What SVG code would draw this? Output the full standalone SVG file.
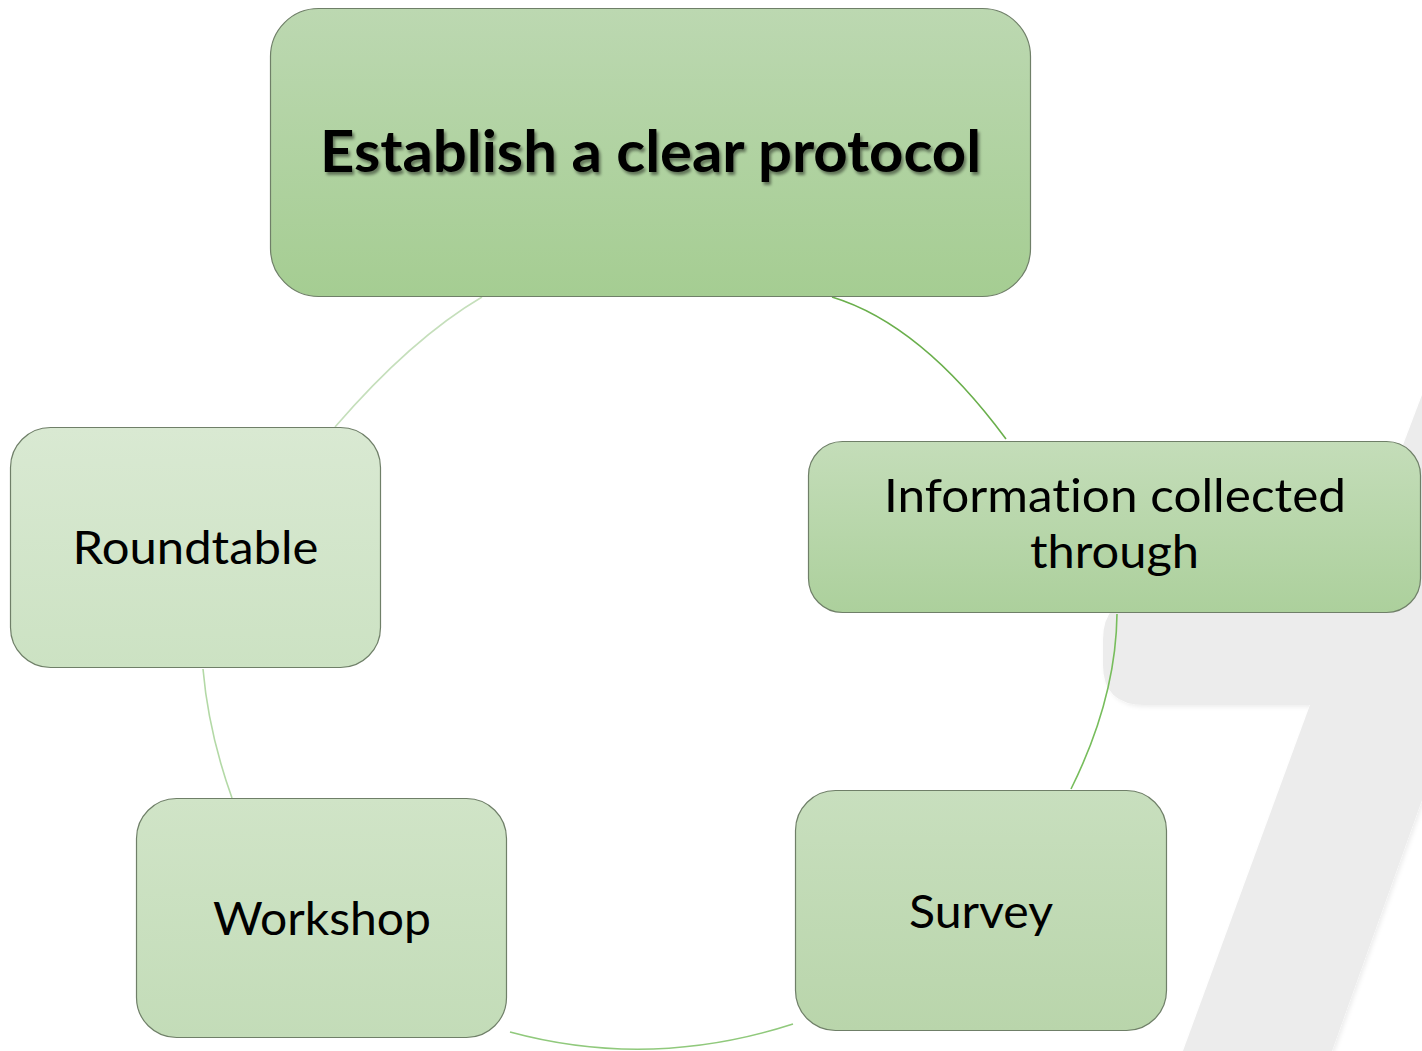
<svg xmlns="http://www.w3.org/2000/svg" width="1422" height="1051" viewBox="0 0 1422 1051">
  <defs>
    <style>
      .box { stroke: #6f7f68; stroke-width: 1.2; }
      .lbl { font-family: Lato, "Open Sans", "Liberation Sans", sans-serif; font-size: 47px; fill: #000000; text-anchor: middle; font-variant-ligatures: none; font-feature-settings: "liga" 0, "clig" 0; }
      .title { font-family: Lato, "Open Sans", "Liberation Sans", sans-serif; font-size: 57px; font-weight: bold; fill: #000000; text-anchor: middle; font-variant-ligatures: none; font-feature-settings: "liga" 0, "clig" 0; }
      .arc { fill: none; stroke-width: 1.6; }
    </style>
    <linearGradient id="gTop" x1="0" y1="0" x2="0" y2="1">
      <stop offset="0" stop-color="#bcd8b1"/>
      <stop offset="1" stop-color="#a5cd92"/>
    </linearGradient>
    <linearGradient id="gInfo" x1="0" y1="0" x2="0" y2="1">
      <stop offset="0" stop-color="#c4ddb9"/>
      <stop offset="1" stop-color="#acd09c"/>
    </linearGradient>
    <linearGradient id="gSurvey" x1="0" y1="0" x2="0" y2="1">
      <stop offset="0" stop-color="#c8dfbe"/>
      <stop offset="1" stop-color="#b9d5ab"/>
    </linearGradient>
    <linearGradient id="gWork" x1="0" y1="0" x2="0" y2="1">
      <stop offset="0" stop-color="#d0e4c7"/>
      <stop offset="1" stop-color="#c3dcb8"/>
    </linearGradient>
    <linearGradient id="gRound" x1="0" y1="0" x2="0" y2="1">
      <stop offset="0" stop-color="#d9e9d2"/>
      <stop offset="1" stop-color="#cce2c3"/>
    </linearGradient>
    <filter id="txtShadow" x="-5%" y="-30%" width="110%" height="160%">
      <feDropShadow dx="2" dy="3" stdDeviation="1.5" flood-color="#000000" flood-opacity="0.45"/>
    </filter>
    <filter id="bgShadow" x="-10%" y="-10%" width="120%" height="120%">
      <feDropShadow dx="2" dy="2" stdDeviation="2" flood-color="#000000" flood-opacity="0.07"/>
    </filter>
  </defs>

  <rect x="0" y="0" width="1422" height="1051" fill="#ffffff"/>

  <g id="background">
    <path d="M 1422 395 L 1345 598 L 1145 598 Q 1103 598 1103 640 L 1103 665 Q 1103 705 1145 705 L 1310 705 L 1183 1051 L 1332 1051 L 1422 800 Z" fill="#ececec" filter="url(#bgShadow)"/>
  </g>

  <g id="connectors">
    <path class="arc" stroke="#c5dfbb" d="M 482 297 Q 411.5 338.5 335 427"/>
    <path class="arc" stroke="#6aaf4c" d="M 832 297 Q 921 324 1006 439"/>
    <path class="arc" stroke="#77bd5c" d="M 1117 614 Q 1116 698.5 1071 789"/>
    <path class="arc" stroke="#90c97c" d="M 510 1032 Q 650.3 1070 793 1024"/>
    <path class="arc" stroke="#b3d9a6" d="M 203 669 Q 208.5 732.5 232 798"/>
  </g>

  <g id="node-establish">
    <rect class="box" x="270.5" y="8.5" width="760" height="288" rx="48" fill="url(#gTop)"/>
    <text class="title" x="650.5" y="172" textLength="661" lengthAdjust="spacingAndGlyphs" filter="url(#txtShadow)">Establish a clear protocol</text>
  </g>

  <g id="node-information">
    <rect class="box" x="808.5" y="441.5" width="612" height="171" rx="34" fill="url(#gInfo)"/>
    <text class="lbl" x="1115" y="512" textLength="462" lengthAdjust="spacingAndGlyphs">Information collected</text>
    <text class="lbl" x="1114.5" y="568" textLength="169" lengthAdjust="spacingAndGlyphs">through</text>
  </g>

  <g id="node-survey">
    <rect class="box" x="795.5" y="790.5" width="371" height="240" rx="40" fill="url(#gSurvey)"/>
    <text class="lbl" x="981" y="928" textLength="144" lengthAdjust="spacingAndGlyphs">Survey</text>
  </g>

  <g id="node-workshop">
    <rect class="box" x="136.5" y="798.5" width="370" height="239" rx="40" fill="url(#gWork)"/>
    <text class="lbl" x="322" y="935" textLength="218" lengthAdjust="spacingAndGlyphs">Workshop</text>
  </g>

  <g id="node-roundtable">
    <rect class="box" x="10.5" y="427.5" width="370" height="240" rx="40" fill="url(#gRound)"/>
    <text class="lbl" x="195.5" y="564" textLength="246" lengthAdjust="spacingAndGlyphs">Roundtable</text>
  </g>
</svg>
